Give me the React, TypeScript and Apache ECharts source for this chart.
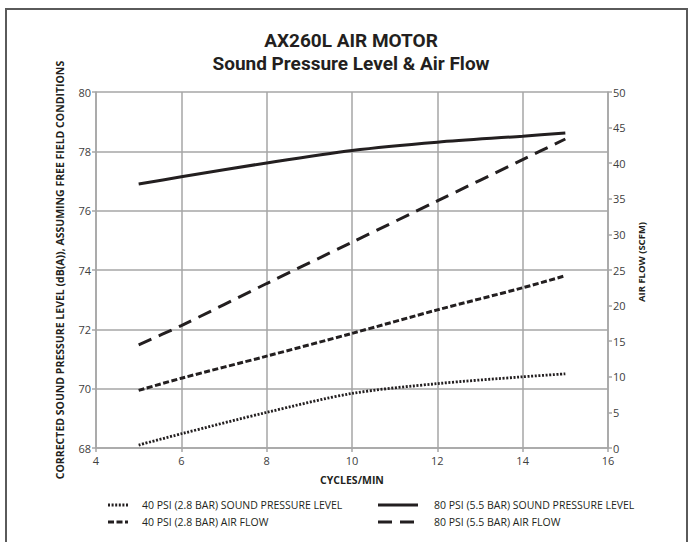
import React, { useEffect, useRef } from 'react';
import * as echarts from 'echarts';

const FONT = '"Open Sans", "Noto Sans", sans-serif';
const TITLE_FONT = 'Roboto, "Open Sans", sans-serif';

const titleLines = ['AX260L AIR MOTOR', 'Sound Pressure Level & Air Flow'];
const xAxisTitle = 'CYCLES/MIN';
const leftAxisTitle = 'CORRECTED SOUND PRESSURE LEVEL (dB(A)), ASSUMING FREE FIELD CONDITIONS';
const rightAxisTitle = 'AIR FLOW (SCFM)';

const cycles = [5, 6, 8, 10, 12, 14, 15];
const spl40 = [68.1, 68.48, 69.2, 69.84, 70.17, 70.4, 70.5];
const spl80 = [76.9, 77.14, 77.61, 78.03, 78.31, 78.51, 78.62];
const air40 = [8.1, 9.8, 12.9, 16.1, 19.4, 22.5, 24.2];
const air80 = [14.5, 17.2, 23.1, 28.9, 34.7, 40.5, 43.4];

const seriesNames = [
  '40 PSI (2.8 BAR) SOUND PRESSURE LEVEL',
  '80 PSI (5.5 BAR) SOUND PRESSURE LEVEL',
  '40 PSI (2.8 BAR) AIR FLOW',
  '80 PSI (5.5 BAR) AIR FLOW',
];

const INK = '#231f20';
const GRID = '#a6a6a6';

const lineStyles: any[] = [
  { width: 2.8, type: [2, 1.6], color: INK, cap: 'butt' },
  { width: 3, type: 'solid', color: INK },
  { width: 3, type: [6, 2.5], color: INK, cap: 'butt' },
  { width: 3, type: [14, 8], color: INK, cap: 'butt' },
];

const pairs = (ys: number[]) => cycles.map((c, i) => [c, ys[i]]);

export default function App() {
  const ref = useRef<HTMLDivElement>(null);
  useEffect(() => {
    if (!ref.current) return;
    const chart = echarts.init(ref.current, undefined, { renderer: 'svg' });

    const legendCols = [
      { x: 108, w: 20, tx: 142 },
      { x: 378, w: 40, tx: 434 },
    ];
    const legendRows = [505, 522];
    const legendGraphics: any[] = [];
    const legendLayout = [
      { s: 0, col: 0, row: 0 },
      { s: 1, col: 1, row: 0 },
      { s: 2, col: 0, row: 1 },
      { s: 3, col: 1, row: 1 },
    ];
    legendLayout.forEach(({ s, col, row }) => {
      const c = legendCols[col];
      const y = legendRows[row];
      const ls = lineStyles[s];
      legendGraphics.push({
        type: 'line',
        shape: { x1: c.x, y1: y, x2: c.x + c.w, y2: y },
        style: {
          stroke: INK,
          lineWidth: ls.width,
          lineDash: Array.isArray(ls.type) ? ls.type : null,
          lineCap: 'butt',
        },
        silent: true,
      });
      legendGraphics.push({
        type: 'text',
        x: c.tx,
        y,
        style: {
          text: seriesNames[s],
          fontSize: 10.5,
          fontFamily: FONT,
          fill: INK,
          align: 'left',
          verticalAlign: 'middle',
        },
        silent: true,
      });
    });

    const option: any = {
      animation: false,
      backgroundColor: '#ffffff',
      textStyle: { fontFamily: FONT },
      title: titleLines.map((t, i) => ({
        text: t,
        left: 351,
        textAlign: 'center',
        top: 31 + i * 22.5,
        padding: 0,
        textStyle: {
          fontFamily: TITLE_FONT,
          fontSize: 19,
          fontWeight: 'bold',
          color: INK,
        },
      })),
      grid: { left: 96, right: 81, top: 92, bottom: 94, containLabel: false },
      xAxis: {
        type: 'value',
        min: 4,
        max: 16,
        interval: 2,
        name: xAxisTitle,
        nameLocation: 'middle',
        nameGap: 26,
        nameTextStyle: { fontSize: 10.5, fontWeight: 'bold', color: INK, fontFamily: FONT },
        axisLine: { show: true, lineStyle: { color: GRID, width: 1.5 } },
        axisTick: { show: true, length: 4, lineStyle: { color: GRID, width: 1.5 } },
        axisLabel: { color: '#404040', fontSize: 11, margin: 7, fontFamily: FONT },
        splitLine: { show: true, lineStyle: { color: GRID, width: 1.5 } },
      },
      yAxis: [
        {
          type: 'value',
          position: 'left',
          min: 68,
          max: 80,
          interval: 2,
          axisLine: { show: true, lineStyle: { color: GRID, width: 1.5 } },
          axisTick: { show: true, length: 4, lineStyle: { color: GRID, width: 1.5 } },
          axisLabel: { color: '#404040', fontSize: 11, margin: 5, fontFamily: FONT },
          splitLine: { show: true, lineStyle: { color: GRID, width: 1.5 } },
        },
        {
          type: 'value',
          position: 'right',
          min: 0,
          max: 50,
          interval: 5,
          axisLine: { show: true, lineStyle: { color: GRID, width: 1.5 } },
          axisTick: { show: true, length: 4, lineStyle: { color: GRID, width: 1.5 } },
          axisLabel: { color: '#404040', fontSize: 11, margin: 5, fontFamily: FONT },
          splitLine: { show: false },
        },
      ],
      series: [
        { name: seriesNames[0], data: pairs(spl40), yAxisIndex: 0 },
        { name: seriesNames[1], data: pairs(spl80), yAxisIndex: 0 },
        { name: seriesNames[2], data: pairs(air40), yAxisIndex: 1 },
        { name: seriesNames[3], data: pairs(air80), yAxisIndex: 1 },
      ].map((s, i) => ({
        ...s,
        type: 'line',
        showSymbol: false,
        symbol: 'none',
        smooth: 0.3,
        lineStyle: lineStyles[i],
        z: 3,
      })),
      graphic: [
        {
          type: 'rect',
          shape: { x: 6, y: 9, width: 681, height: 600 },
          style: { fill: 'none', stroke: '#5a5a5a', lineWidth: 2 },
          silent: true,
          z: 0,
        },
        {
          type: 'text',
          x: 60,
          y: 270,
          rotation: Math.PI / 2,
          style: {
            text: leftAxisTitle,
            fontSize: 10.5,
            fontWeight: 'bold',
            fontFamily: FONT,
            fill: INK,
            align: 'center',
            verticalAlign: 'middle',
          },
          silent: true,
        },
        {
          type: 'text',
          x: 641,
          y: 262,
          rotation: Math.PI / 2,
          style: {
            text: rightAxisTitle,
            fontSize: 9.5,
            fontWeight: 'bold',
            fontFamily: FONT,
            fill: INK,
            align: 'center',
            verticalAlign: 'middle',
          },
          silent: true,
        },
        ...legendGraphics,
      ],
    };
    chart.setOption(option);
    return () => chart.dispose();
  }, []);

  return (
    <div
      ref={ref}
      style={{ width: 689, height: 542, position: 'absolute', left: 0, top: 0 }}
    />
  );
}
